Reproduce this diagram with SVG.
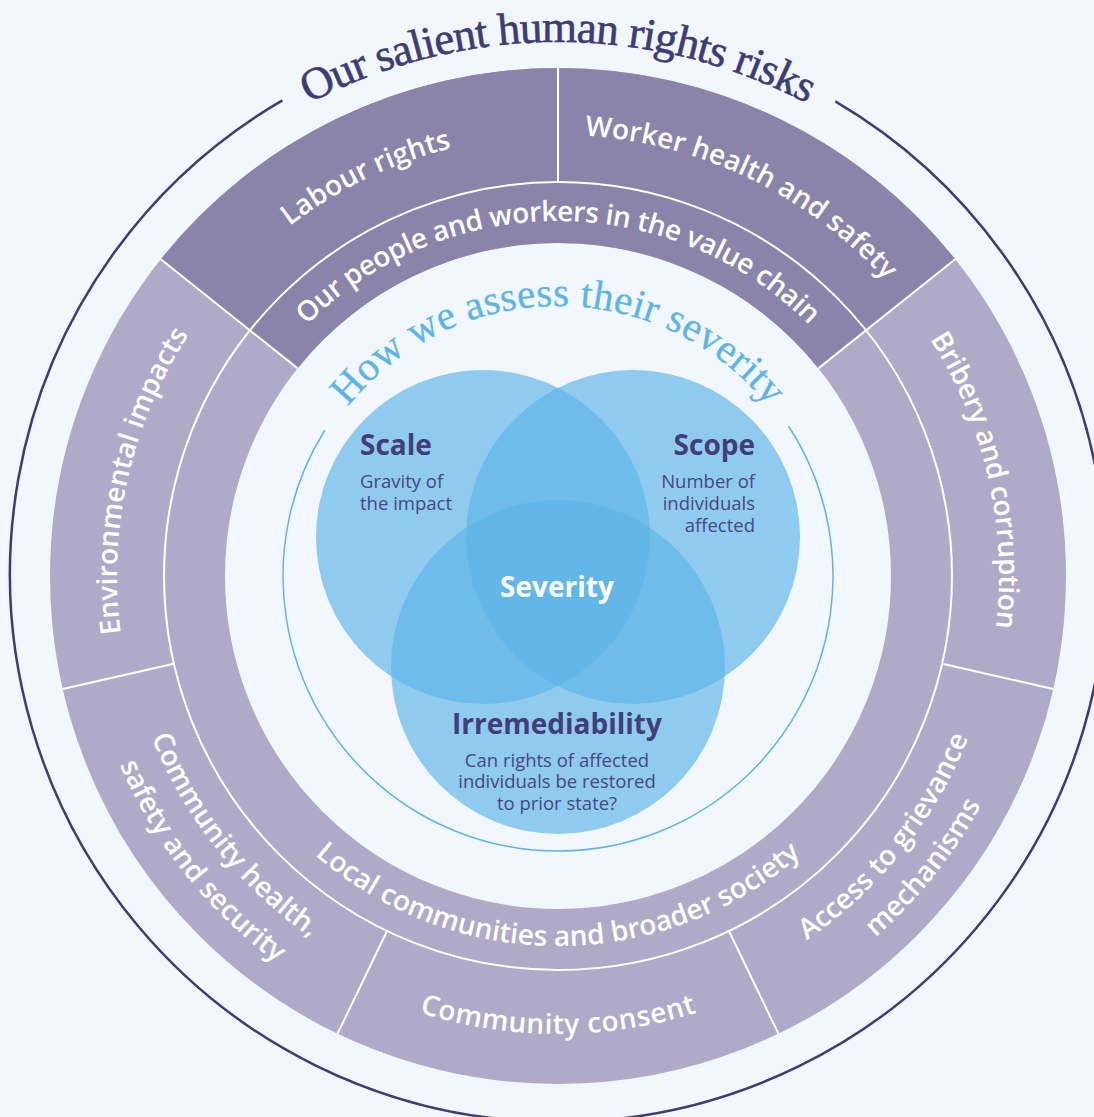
<svg xmlns="http://www.w3.org/2000/svg" xmlns:xlink="http://www.w3.org/1999/xlink" width="1094" height="1117" viewBox="0 0 1094 1117">
<style>
.lbl{font-family:'Open Sans','Noto Sans',sans-serif;font-weight:600;font-size:28px;fill:#ffffff}
.venn{fill:#5FB6E7;fill-opacity:0.68}
.head{font-family:'Open Sans','Noto Sans',sans-serif;font-weight:700;font-size:28px;fill:#433D7A}
.body{font-family:'Open Sans','Noto Sans',sans-serif;font-weight:400;font-size:18.5px;fill:#4A4683}
.title{font-family:'Liberation Serif','Times New Roman',serif;font-size:45px;fill:#3E3C74;stroke:#3E3C74;stroke-width:0.6}
.sub{font-family:'Liberation Serif','Times New Roman',serif;font-size:41px;fill:#5DB5E7;stroke:#5DB5E7;stroke-width:0.3}
.div{stroke:#ffffff;stroke-width:2;fill:none}
</style>
<defs>
<path id="pTitle" d="M42.19,437.79 A534,534 0 0 1 1073.81,437.79"/>
<path id="pSub" d="M297.20,506.12 A270,270 0 0 1 818.80,506.12"/>
<path id="pLabour" d="M130.64,467.17 A441,441 0 0 1 739.39,174.03"/>
<path id="pWorker" d="M376.61,174.03 A441,441 0 0 1 985.36,467.17"/>
<path id="pBribery" d="M759.19,183.57 A441,441 0 0 1 909.53,842.28"/>
<path id="pEnv" d="M206.47,842.28 A441,441 0 0 1 356.81,183.57"/>
<path id="pConsent" d="M207.15,870.40 A458,458 0 0 0 908.85,870.40"/>
<path id="pHealth1" d="M129.67,489.41 A439,439 0 0 0 547.10,1014.86"/>
<path id="pHealth2" d="M90.46,481.48 A480,480 0 0 0 546.11,1055.85"/>
<path id="pAccess1" d="M568.99,1016.86 A441,441 0 0 0 990.25,488.62"/>
<path id="pAccess2" d="M569.99,1056.85 A481,481 0 0 0 1029.46,480.69"/>
<path id="pPeople" d="M224.41,454.58 A355,355 0 0 1 891.59,454.58"/>
<path id="pLocal" d="M210.31,702.55 A370,370 0 0 0 905.69,702.55"/>
</defs>
<rect width="1094" height="1117" fill="#F2F7FE"/>
<g id="title">
<path d="M835.30,101.34 A548,548 0 1 1 282.35,100.38" fill="none" stroke="#3E3C74" stroke-width="2.5"/>
<text class="title"><textPath xlink:href="#pTitle" href="#pTitle" startOffset="50%" text-anchor="middle" textLength="518" lengthAdjust="spacing">Our salient human rights risks</textPath></text>
</g>
<g id="rings">
<circle cx="558" cy="576" r="420.5" fill="none" stroke="#AFAAC8" stroke-width="175"/>
<path d="M160.83,259.27 A508,508 0 0 1 955.17,259.27 L818.35,368.38 A333,333 0 0 0 297.65,368.38 Z" fill="#8A84AB"/>
<circle cx="558" cy="576" r="394" class="div"/>
</g>
<g id="connectors">
<line class="div" x1="297.65" y1="368.38" x2="160.83" y2="259.27"/>
<line class="div" x1="818.35" y1="368.38" x2="955.17" y2="259.27"/>
<line class="div" x1="558" y1="182" x2="558" y2="68"/>
<line class="div" x1="942.12" y1="663.67" x2="1053.26" y2="689.04"/>
<line class="div" x1="728.95" y1="930.98" x2="778.41" y2="1033.69"/>
<line class="div" x1="387.05" y1="930.98" x2="337.59" y2="1033.69"/>
<line class="div" x1="173.88" y1="663.67" x2="62.74" y2="689.04"/>
</g>
<g id="seg-labour"><text class="lbl"><textPath xlink:href="#pLabour" href="#pLabour" startOffset="50%" text-anchor="middle">Labour rights</textPath></text></g>
<g id="seg-worker"><text class="lbl"><textPath xlink:href="#pWorker" href="#pWorker" startOffset="50%" text-anchor="middle">Worker health and safety</textPath></text></g>
<g id="seg-bribery"><text class="lbl"><textPath xlink:href="#pBribery" href="#pBribery" startOffset="50%" text-anchor="middle" textLength="302" lengthAdjust="spacing">Bribery and corruption</textPath></text></g>
<g id="seg-access">
<text class="lbl"><textPath xlink:href="#pAccess1" href="#pAccess1" startOffset="50%" text-anchor="middle">Access to grievance</textPath></text>
<text class="lbl"><textPath xlink:href="#pAccess2" href="#pAccess2" startOffset="50%" text-anchor="middle">mechanisms</textPath></text>
</g>
<g id="seg-consent"><text class="lbl"><textPath xlink:href="#pConsent" href="#pConsent" startOffset="50%" text-anchor="middle" textLength="282" lengthAdjust="spacing">Community consent</textPath></text></g>
<g id="seg-health">
<text class="lbl"><textPath xlink:href="#pHealth1" href="#pHealth1" startOffset="50%" text-anchor="middle">Community health,</textPath></text>
<text class="lbl"><textPath xlink:href="#pHealth2" href="#pHealth2" startOffset="50%" text-anchor="middle">safety and security</textPath></text>
</g>
<g id="seg-env"><text class="lbl"><textPath xlink:href="#pEnv" href="#pEnv" startOffset="50%" text-anchor="middle">Environmental impacts</textPath></text></g>
<g id="seg-people"><text class="lbl"><textPath xlink:href="#pPeople" href="#pPeople" startOffset="50%" text-anchor="middle" textLength="558" lengthAdjust="spacing">Our people and workers in the value chain</textPath></text></g>
<g id="seg-local"><text class="lbl"><textPath xlink:href="#pLocal" href="#pLocal" startOffset="50%" text-anchor="middle">Local communities and broader society</textPath></text></g>
<g id="severity-heading">
<path d="M788.63,426.22 A275,275 0 1 1 324.79,430.27" fill="none" stroke="#5DB5E7" stroke-width="1.5"/>
<text class="sub"><textPath xlink:href="#pSub" href="#pSub" startOffset="50%" text-anchor="middle" textLength="482" lengthAdjust="spacing">How we assess their severity</textPath></text>
</g>
<g id="venn">
<circle class="venn" cx="483" cy="537" r="167"/>
<circle class="venn" cx="633" cy="537" r="167"/>
<circle class="venn" cx="558" cy="667" r="167"/>
</g>
<g id="node-scale">
<text class="head" x="360" y="455">Scale</text>
<text class="body" x="360" y="488">Gravity of</text>
<text class="body" x="360" y="510">the impact</text>
</g>
<g id="node-scope">
<text class="head" x="755" y="455" text-anchor="end">Scope</text>
<text class="body" x="755" y="488" text-anchor="end">Number of</text>
<text class="body" x="755" y="510" text-anchor="end">individuals</text>
<text class="body" x="755" y="532" text-anchor="end">affected</text>
</g>
<g id="node-severity">
<text class="head" x="557" y="597" text-anchor="middle" style="fill:#ffffff">Severity</text>
</g>
<g id="node-irremediability">
<text class="head" x="557" y="734" text-anchor="middle">Irremediability</text>
<text class="body" x="557" y="767" text-anchor="middle">Can rights of affected</text>
<text class="body" x="557" y="788" text-anchor="middle">individuals be restored</text>
<text class="body" x="557" y="810" text-anchor="middle">to prior state?</text>
</g>
</svg>
